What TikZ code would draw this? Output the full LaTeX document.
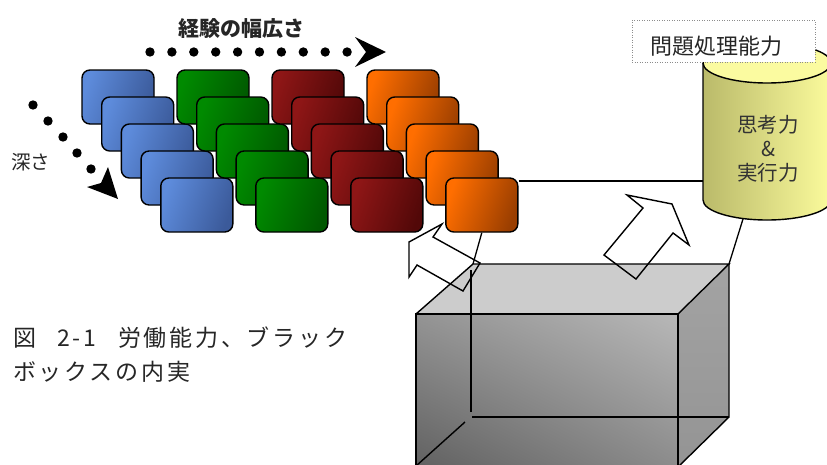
\documentclass[tikz,border=0pt]{standalone}
\usepackage{fontspec}
\usetikzlibrary{shadings}
\newfontfamily\jp{Noto Sans CJK JP}
\definecolor{blueL}{HTML}{5D8BDB}
\definecolor{blueR}{HTML}{3B5A9A}
\definecolor{greenL}{HTML}{008A00}
\definecolor{greenR}{HTML}{005800}
\definecolor{redL}{HTML}{8E1616}
\definecolor{redR}{HTML}{520808}
\definecolor{orangeL}{HTML}{FF6E00}
\definecolor{orangeR}{HTML}{9A3E00}
\definecolor{cylL}{HTML}{BABA6A}
\definecolor{cylR}{HTML}{FBFB9C}
\definecolor{cylTop}{HTML}{FBFBA0}
\tikzset{
  card/.style={draw=black, line width=1.4pt, rounded corners=8pt,
    minimum width=72pt, minimum height=54pt, inner sep=0pt},
  bluecard/.style={card, left color=blueL, right color=blueR, shading angle=70},
  greencard/.style={card, left color=greenL, right color=greenR, shading angle=70},
  redcard/.style={card, left color=redL, right color=redR, shading angle=70},
  orangecard/.style={card, left color=orangeL, right color=orangeR, shading angle=70},
  conn/.style={draw=black, line width=1.3pt},
  edge3d/.style={draw=black, line width=1.4pt},
  hollow/.style={draw=black, line width=1.4pt, line join=miter},
  dot/.style={fill=black},
  captxt/.style={anchor=west, inner sep=0pt, text=black!85,
    font=\jp\fontsize{23}{23}\selectfont\addfontfeature{LetterSpace=12}},
}
\begin{document}
\begin{tikzpicture}[x=1pt,y=-1pt]
\useasboundingbox (0,0) rectangle (827,464);
\clip (0,0) rectangle (827,464);

% cube coordinates
\coordinate (FTL) at (416,314);
\coordinate (FTR) at (678,314);
\coordinate (FBR) at (678,467);
\coordinate (FBL) at (416,467);
\coordinate (BTL) at (473,264);
\coordinate (BTR) at (729,264);
\coordinate (BBR) at (729,417);
\coordinate (cylW) at (703,181);
\coordinate (cylB) at (743,219);

% cards
\foreach \c/\st/\nm in {0/bluecard/b,1/greencard/g,2/redcard/r,3/orangecard/o}{
  \foreach \r in {0,...,4}{
    \node[\st] (\nm\r) at ({82+95*\c+19.7*\r+36},{70+27*\r+27}) {};
  }
}

% connectors from the front orange card
\draw[conn] (o4.east |- cylW) -- (cylW);
\draw[conn] (o4.south) -- (BTL);

% cube faces
\fill[fill=black!20] (FTL) -- (BTL) -- (BTR) -- (FTR) -- cycle;
\shade[upper left=black!42, upper right=black!28, lower left=black!62, lower right=black!45]
  (FTL) -- (FTR) -- (FBR) -- (FBL) -- cycle;
\shade[top color=black!36, bottom color=black!42] (FTR) -- (BTR) -- (BBR) -- (FBR) -- cycle;
\draw[edge3d] (FTL) -- (FTR) -- (FBR) -- (FBL) -- cycle;
\draw[edge3d] (FTL) -- (BTL) -- (BTR) -- (FTR);
\draw[edge3d] (BTR) -- (BBR) -- (FBR);
% hidden edges
\draw[edge3d] (471,270) -- (471,412);
\draw[edge3d] (472,417) -- (BBR);
\draw[edge3d] (465,422) -- (416,466);

% connector cylinder to cube
\draw[conn] (cylB) -- (BTR);

% cylinder
\shade[left color=cylL, right color=cylR]
  (703,63) -- (703,200) arc[start angle=180, end angle=0, x radius=64, y radius=20] -- (831,63) -- cycle;
\draw[line width=1.4pt] (703,63) -- (703,200) arc[start angle=180, end angle=0, x radius=64, y radius=20];
\draw[line width=1.4pt, fill=cylTop] (767,63) ellipse [x radius=64, y radius=20];
\node[font=\jp\fontsize{20.5}{24}\selectfont, text=black!80, align=center] (cyl) at (768,149) {思考力\\\&\\実行力};

% hollow arrows
\draw[hollow] (442,224) -- (433,237) -- (480,263) -- (463,291) -- (417,265) -- (409,277) -- (409,242) -- cycle;
\draw[hollow] (627,195) -- (643,208) -- (604,255) -- (636,279) -- (673,233) -- (689,245) -- (672,204) -- cycle;

% dotted label box
\node[draw=black!45, line width=1pt, dash pattern=on 1pt off 1.5pt, fill=white,
  minimum width=183pt, minimum height=42pt, inner sep=0pt] (lblbox) at (723.5,41) {};
\node[font=\jp\fontsize{22}{22}\selectfont, text=black!85] (lbl) at (716,46) {問題処理能力};

% dotted arrows
\foreach \i in {0,...,9}{ \fill[dot] ({150+21.9*\i},52) circle (4.7); }
\fill[dot] (386,52) -- (355,37) -- (366,52) -- (355,67) -- cycle;
\foreach \p in {(33,105),(48,121),(63,137),(77,153),(91,169)}{ \fill[dot] \p circle (4.7); }
\fill[dot] (118,199) -- (87,187) -- (101,183) -- (108,167) -- cycle;

% labels
\node[font=\jp\bfseries\fontsize{21}{21}\selectfont, text=black!85] (wid) at (241,29) {経験の幅広さ};
\node[font=\jp\fontsize{19.5}{19.5}\selectfont, text=black!85] (dep) at (31,162) {深さ};
\node[captxt] (cap1) at (13,338)
  {\makebox[44pt][l]{図}\makebox[61pt][l]{2-1}労働能力、ブラック};
\node[captxt] (cap2) at (13,372) {ボックスの内実};
\end{tikzpicture}
\end{document}
